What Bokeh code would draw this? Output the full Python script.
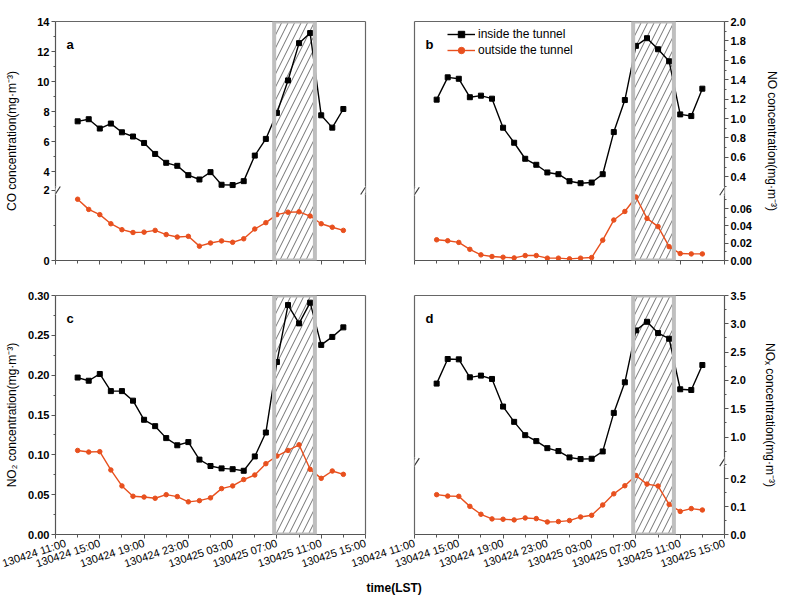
from bokeh.plotting import figure
from bokeh.models import (Range1d, LinearAxis, FixedTicker, BoxAnnotation, Label,
                          Legend, LegendItem, Title, Arrow)
from bokeh.layouts import row, column
from bokeh.embed import file_html
from bokeh.resources import INLINE

# ---------------- data ----------------
hours = list(range(13, 38))  # hours since 130424 00:00 (13:00 on 24th .. 13:00 on 25th)
x_major = [11, 15, 19, 23, 27, 31, 35, 39]
x_minor = [13, 17, 21, 25, 29, 33, 37]
x_labels = ["130424 11:00", "130424 15:00", "130424 19:00", "130424 23:00",
            "130425 03:00", "130425 07:00", "130425 11:00", "130425 15:00"]
shade_start, shade_end = 30.75, 34.43

co_inside = [7.36, 7.50, 6.88, 7.21, 6.63, 6.35, 5.92, 5.19, 4.60, 4.40, 3.78, 3.49, 3.98,
             3.14, 3.12, 3.38, 5.08, 6.19, 7.92, 10.08, 12.56, 13.23, 7.76, 6.94, 8.18]
co_outside = [1.75, 1.46, 1.31, 1.05, 0.88, 0.80, 0.81, 0.86, 0.74, 0.67, 0.69, 0.41, 0.50,
              0.56, 0.52, 0.62, 0.90, 1.08, 1.31, 1.38, 1.39, 1.27, 1.05, 0.95, 0.86]
no_inside = [1.195, 1.425, 1.41, 1.22, 1.236, 1.205, 0.906, 0.751, 0.586, 0.524, 0.445, 0.427,
             0.355, 0.334, 0.341, 0.427, 0.861, 1.191, 1.749, 1.828, 1.714, 1.590, 1.043,
             1.026, 1.308]
no_outside = [0.0239, 0.0228, 0.0209, 0.0129, 0.0065, 0.0046, 0.0038, 0.0030, 0.0057, 0.0057,
              0.0027, 0.0027, 0.0019, 0.0027, 0.0034, 0.0235, 0.0467, 0.0566, 0.0733, 0.0486,
              0.0391, 0.0160, 0.0080, 0.0076, 0.0076]
no2_inside = [0.197, 0.193, 0.2015, 0.180, 0.180, 0.168, 0.144, 0.136, 0.121, 0.112, 0.116,
              0.094, 0.086, 0.083, 0.082, 0.080, 0.098, 0.128, 0.2165, 0.288, 0.265, 0.291,
              0.238, 0.248, 0.260]
no2_outside = [0.1055, 0.1035, 0.104, 0.081, 0.061, 0.048, 0.047, 0.0455, 0.050, 0.0476, 0.041,
               0.0425, 0.046, 0.0576, 0.061, 0.069, 0.0747, 0.0889, 0.0985, 0.1055, 0.1126,
               0.0818, 0.0705, 0.0797, 0.0755]
nox_inside = [1.945, 2.379, 2.373, 2.056, 2.086, 2.027, 1.540, 1.270, 1.035, 0.930, 0.806,
              0.754, 0.642, 0.613, 0.619, 0.748, 1.428, 1.968, 2.884, 3.036, 2.837, 2.737,
              1.845, 1.833, 2.273]
nox_outside = [0.143, 0.138, 0.137, 0.101, 0.0726, 0.056, 0.0548, 0.0524, 0.0595, 0.0571, 0.045,
               0.0464, 0.050, 0.063, 0.069, 0.106, 0.146, 0.175, 0.212, 0.181, 0.174, 0.108,
               0.083, 0.093, 0.088]

# axis segments: (start, end) of upper and lower parts of broken axes
co_upper, co_lower = (2.76, 14.0), (0.0, 2.0)
co_upper_ticks = [4, 6, 8, 10, 12, 14]
co_upper_minor = [5, 7, 9, 11, 13]
co_lower_ticks = [0, 2]
co_lower_minor = [1]

no_upper, no_lower = (0.252, 2.0), (0.0, 0.08)
no_upper_ticks = [0.4, 0.6, 0.8, 1.0, 1.2, 1.4, 1.6, 1.8, 2.0]
no_upper_minor = [0.3, 0.5, 0.7, 0.9, 1.1, 1.3, 1.5, 1.7, 1.9]
no_lower_ticks = [0.0, 0.02, 0.04, 0.06]
no_lower_minor = [0.01, 0.03, 0.05, 0.07]

no2_range = (0.0, 0.30)
no2_ticks = [0.0, 0.05, 0.10, 0.15, 0.20, 0.25, 0.30]
no2_minor = [0.025, 0.075, 0.125, 0.175, 0.225, 0.275]

nox_upper, nox_lower = (0.56, 3.5), (0.0, 0.26)
nox_upper_ticks = [1.0, 1.5, 2.0, 2.5, 3.0, 3.5]
nox_upper_minor = [0.75, 1.25, 1.75, 2.25, 2.75, 3.25]
nox_lower_ticks = [0.0, 0.1, 0.2]
nox_lower_minor = [0.05, 0.15, 0.25]

# ---------------- style ----------------
FONT = "Liberation Sans"
ORANGE = "#E8501E"
AXIS_COL = "#555555"
FRAME_W, FRAME_H = 310, 239
X0, X1 = 11, 39
PX_PER_H = FRAME_W / (X1 - X0)


def fmt(v, d):
    return f"{v:.{d}f}"


def base_fig(y_start, y_end, left, right, top, bottom, margin=None):
    kw = dict(frame_width=FRAME_W, frame_height=FRAME_H,
              x_range=Range1d(X0, X1), y_range=Range1d(y_start, y_end),
              x_axis_location=None, y_axis_location=None,
              toolbar_location=None, output_backend="svg",
              min_border_left=left, min_border_right=right,
              min_border_top=top, min_border_bottom=bottom)
    if margin is not None:
        kw["margin"] = margin
    p = figure(**kw)
    p.grid.grid_line_color = None
    p.outline_line_color = None
    p.background_fill_color = None
    p.border_fill_color = None
    return p


def plain_axis(side, p):
    ax = LinearAxis(ticker=FixedTicker(ticks=[]), major_tick_line_color=None,
                    minor_tick_line_color=None, major_label_text_color=None,
                    axis_line_color="#666666", axis_line_width=1.2)
    p.add_layout(ax, side)


def y_axis(p, side, ticks, minor, overrides, label=None, label_standoff=0):
    ax = LinearAxis(ticker=FixedTicker(ticks=ticks, minor_ticks=minor),
                    major_label_overrides=overrides,
                    major_label_text_font=FONT, major_label_text_font_size="11px",
                    major_label_text_font_style="bold", major_label_text_color="black",
                    major_label_standoff=2,
                    major_tick_in=0, major_tick_out=4, minor_tick_in=0, minor_tick_out=2,
                    axis_line_color=AXIS_COL, axis_line_width=1.2,
                    major_tick_line_color=AXIS_COL, minor_tick_line_color=AXIS_COL)
    if label is not None:
        ax.axis_label = label
        ax.axis_label_standoff = label_standoff
        ax.axis_label_text_font = FONT
        ax.axis_label_text_font_size = "12px"
        ax.axis_label_text_font_style = "normal"
        ax.axis_label_text_color = "black"
    p.add_layout(ax, side)


def x_axis(p, show_labels):
    ax = LinearAxis(ticker=FixedTicker(ticks=x_major, minor_ticks=x_minor),
                    major_label_overrides={t: l for t, l in zip(x_major, x_labels)},
                    major_label_text_font=FONT, major_label_text_font_size="11px",
                    major_label_text_color="black" if show_labels else None,
                    major_label_standoff=4,
                    major_tick_in=0, major_tick_out=4, minor_tick_in=0, minor_tick_out=3,
                    axis_line_color=AXIS_COL, axis_line_width=1.2,
                    major_tick_line_color=AXIS_COL, minor_tick_line_color=AXIS_COL)
    if show_labels:
        ax.major_label_orientation = 0.32
    p.add_layout(ax, "below")


def shade(p):
    p.add_layout(BoxAnnotation(left=shade_start, right=shade_end, fill_alpha=0, line_alpha=0,
                               hatch_pattern="/", hatch_color="#333333", hatch_weight=0.7,
                               hatch_scale=13, level="underlay"))
    p.add_layout(BoxAnnotation(left=shade_start, right=shade_end, fill_alpha=0,
                               line_color="#BFBFBF", line_alpha=1, line_width=4))


def letter(p, txt, y_top):
    p.add_layout(Label(x=X0, y=y_top, x_offset=11, y_offset=-15, text=txt,
                       text_font=FONT, text_font_size="13px", text_font_style="bold",
                       text_baseline="top", text_align="left", text_color="black"))


def break_mark(p, xb, yb, ppy):
    # white gap in the axis line plus two short slanted strokes
    dx, dy = 1.0 / PX_PER_H, 1.0 / ppy
    p.add_layout(BoxAnnotation(left=xb - 4 * dx, right=xb + 4 * dx,
                               bottom=yb - 4.5 * dy, top=yb + 4.5 * dy,
                               fill_color="white", fill_alpha=1, line_alpha=0))
    for off in (-2.2, 2.2):
        p.add_layout(Arrow(start=None, end=None,
                           x_start=xb + (off - 2.6) * dx, y_start=yb - 4 * dy,
                           x_end=xb + (off + 2.6) * dx, y_end=yb + 4 * dy,
                           line_color="#333333", line_width=1.1))


def series(p, inside, outside, low_name=None):
    l1 = p.line(hours, inside, line_color="black", line_width=1.4)
    s1 = p.scatter(hours, inside, marker="square", size=5, color="black")
    kw = {} if low_name is None else {"y_range_name": low_name}
    l2 = p.line(hours, outside, line_color=ORANGE, line_width=1.4, **kw)
    s2 = p.scatter(hours, outside, marker="circle", size=4.5, color=ORANGE, **kw)
    return l1, s1, l2, s2


def broken_panel(upper, lower, frac, inside, outside, up_t, up_m, up_dec, lo_t, lo_m, lo_dec,
                 side, label, label_standoff, txt, show_x, borders, margin=None):
    u0, u1 = upper
    l0, l1 = lower
    ys = u0 - (u1 - u0) * frac / (1 - frac)
    lend = l0 + (l1 - l0) / frac
    p = base_fig(ys, u1, *borders, margin=margin)
    p.extra_y_ranges = {"low": Range1d(l0, lend)}

    def m(v):
        return ys + (v - l0) / (lend - l0) * (u1 - ys)

    ticks = [m(v) for v in lo_t] + list(up_t)
    minor = [m(v) for v in lo_m] + list(up_m)
    overrides = {m(v): fmt(v, lo_dec) for v in lo_t}
    overrides.update({v: fmt(v, up_dec) for v in up_t})
    other = "right" if side == "left" else "left"
    y_axis(p, side, ticks, minor, overrides, label, label_standoff)
    plain_axis(other, p)
    plain_axis("above", p)
    x_axis(p, show_x)
    shade(p)
    rends = series(p, inside, outside, "low")
    ppy = FRAME_H / (u1 - ys)
    for xb in (X0, X1):
        break_mark(p, xb, u0, ppy)
    letter(p, txt, u1)
    return p, rends


# panel a
pa, _ = broken_panel(co_upper, co_lower, 0.293, co_inside, co_outside,
                     co_upper_ticks, co_upper_minor, 0, co_lower_ticks, co_lower_minor, 0,
                     "left", "CO concentration(mg·m⁻³)", 15, "a", False, (55, 5, 29, 24))

# panel b
pb, rb = broken_panel(no_upper, no_lower, 0.29, no_inside, no_outside,
                      no_upper_ticks, no_upper_minor, 1, no_lower_ticks, no_lower_minor, 2,
                      "right", "NO concentration(mg·m⁻³)", 10, "b", False, (74, 50, 29, 24),
                      margin=(0, 0, 0, -30))
legend = Legend(items=[LegendItem(label="inside the tunnel", renderers=[rb[0], rb[1]]),
                       LegendItem(label="outside the tunnel", renderers=[rb[2], rb[3]])],
                orientation="vertical", location=(33, FRAME_H - 37),
                glyph_width=28, glyph_height=16, label_height=16, label_standoff=3,
                spacing=0, padding=0, margin=0, border_line_color=None,
                background_fill_alpha=0,
                label_text_font=FONT, label_text_font_size="12px", label_text_color="black")
pb.add_layout(legend)

# panel c
pc = base_fig(no2_range[0], no2_range[1], 55, 5, 11, 72)
y_axis(pc, "left", no2_ticks, no2_minor, {v: fmt(v, 2) for v in no2_ticks},
       "NO₂ concentration(mg·m⁻³)", 6)
plain_axis("right", pc)
plain_axis("above", pc)
x_axis(pc, True)
shade(pc)
series(pc, no2_inside, no2_outside)
letter(pc, "c", no2_range[1])

# panel d
pd_, _ = broken_panel(nox_upper, nox_lower, 0.303, nox_inside, nox_outside,
                      nox_upper_ticks, nox_upper_minor, 1, nox_lower_ticks, nox_lower_minor, 1,
                      "right", "NOₓ concentration(mg·m⁻³)", 14, "d", True, (74, 50, 11, 72),
                      margin=(0, 0, 0, -30))
pd_.add_layout(Title(text="time(LST)", align="left", offset=-48, standoff=0,
                     text_font=FONT, text_font_size="12px", text_font_style="bold",
                     text_color="black"), "below")

layout = column(row(pa, pb), row(pc, pd_), margin=(-8, 0, 0, 0))
open("out.html", "w").write(file_html(layout, INLINE))
